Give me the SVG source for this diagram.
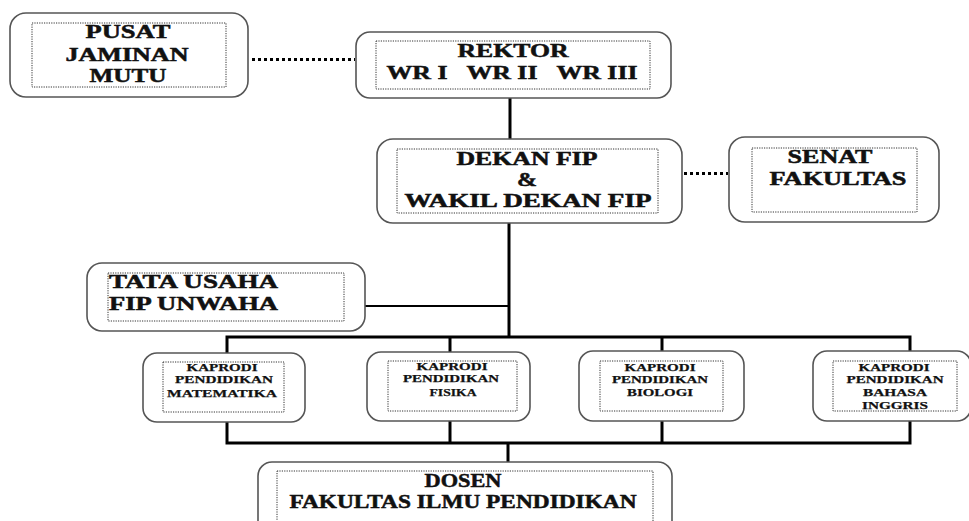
<svg xmlns="http://www.w3.org/2000/svg" width="969" height="521" viewBox="0 0 969 521">
<style>
.box{fill:#fff;stroke:#555;stroke-width:1.6}
.inner{fill:none;stroke:#333;stroke-width:1;stroke-dasharray:1.2 1.2}
text{font-family:"Liberation Serif","Times New Roman",serif;font-weight:bold;fill:#111;text-anchor:middle}
.t{font-size:19px;stroke:#111;stroke-width:0.5}
.s{font-size:10.5px;stroke:#111;stroke-width:0.25}
.line{stroke:#000;fill:none}
.dot{stroke:#000;stroke-width:3;stroke-dasharray:3 3;fill:none}
</style>
<rect width="969" height="521" fill="#fff"/>
<g id="connectors">
<line class="dot" x1="252" y1="59.5" x2="355" y2="59.5"/>
<line class="dot" x1="684" y1="173.5" x2="728" y2="173.5"/>
<line class="line" stroke-width="3" x1="510" y1="98" x2="510" y2="139"/>
<line class="line" stroke-width="3" x1="509" y1="223" x2="509" y2="338"/>
<line class="line" stroke-width="2" x1="365" y1="306" x2="509" y2="306"/>
<polyline class="line" stroke-width="3" points="227,353 227,337 910,337 910,351"/>
<line class="line" stroke-width="3" x1="450" y1="337" x2="450" y2="352"/>
<line class="line" stroke-width="3" x1="662" y1="337" x2="662" y2="351"/>
<polyline class="line" stroke-width="3" points="227,418 227,443 910,443 910,418"/>
<line class="line" stroke-width="3" x1="450" y1="419" x2="450" y2="443"/>
<line class="line" stroke-width="3" x1="662" y1="418" x2="662" y2="443"/>
<line class="line" stroke-width="3" x1="508" y1="443" x2="508" y2="462"/>
</g>
<g id="pusat">
<rect class="box" x="10" y="13" width="238" height="84" rx="16"/>
<rect class="inner" x="32" y="23" width="194" height="64"/>
<text class="t" x="128" y="38" textLength="85" lengthAdjust="spacingAndGlyphs">PUSAT</text>
<text class="t" x="127" y="61" textLength="123" lengthAdjust="spacingAndGlyphs">JAMINAN</text>
<text class="t" x="128" y="82" textLength="77" lengthAdjust="spacingAndGlyphs">MUTU</text>
</g>
<g id="rektor">
<rect class="box" x="356" y="32" width="315" height="66" rx="14"/>
<rect class="inner" x="376" y="41" width="274" height="48"/>
<text class="t" x="513" y="57" textLength="111" lengthAdjust="spacingAndGlyphs">REKTOR</text>
<text class="t" x="512" y="79" textLength="251" lengthAdjust="spacingAndGlyphs" xml:space="preserve">WR I   WR II   WR III</text>
</g>
<g id="dekan">
<rect class="box" x="377" y="139" width="305" height="84" rx="16"/>
<rect class="inner" x="397" y="149" width="261" height="64"/>
<text class="t" x="527" y="165" textLength="141" lengthAdjust="spacingAndGlyphs">DEKAN FIP</text>
<text class="t" x="527" y="186" textLength="20" lengthAdjust="spacingAndGlyphs">&amp;</text>
<text class="t" x="528" y="207" textLength="247" lengthAdjust="spacingAndGlyphs">WAKIL DEKAN FIP</text>
</g>
<g id="senat">
<rect class="box" x="729" y="137" width="210" height="85" rx="16"/>
<rect class="inner" x="752" y="148" width="165" height="64"/>
<text class="t" x="830" y="163" textLength="85" lengthAdjust="spacingAndGlyphs">SENAT</text>
<text class="t" x="838" y="185" textLength="137" lengthAdjust="spacingAndGlyphs">FAKULTAS</text>
</g>
<g id="tata-usaha">
<rect class="box" x="87" y="263" width="278" height="68" rx="15"/>
<rect class="inner" x="108" y="273" width="236" height="48"/>
<text class="t" x="109" y="288" style="text-anchor:start" textLength="169" lengthAdjust="spacingAndGlyphs">TATA USAHA</text>
<text class="t" x="109" y="310" style="text-anchor:start" textLength="169" lengthAdjust="spacingAndGlyphs">FIP UNWAHA</text>
</g>
<g id="kaprodi-matematika">
<rect class="box" x="143" y="353" width="162" height="69" rx="14"/>
<rect class="inner" x="163" y="362" width="121" height="50"/>
<text class="s" x="222" y="371" textLength="71" lengthAdjust="spacingAndGlyphs">KAPRODI</text>
<text class="s" x="224" y="383" textLength="98" lengthAdjust="spacingAndGlyphs">PENDIDIKAN</text>
<text class="s" x="222" y="397" textLength="110" lengthAdjust="spacingAndGlyphs">MATEMATIKA</text>
</g>
<g id="kaprodi-fisika">
<rect class="box" x="367" y="352" width="163" height="69" rx="14"/>
<rect class="inner" x="388" y="361" width="129" height="50"/>
<text class="s" x="452" y="370" textLength="71" lengthAdjust="spacingAndGlyphs">KAPRODI</text>
<text class="s" x="451" y="382" textLength="96" lengthAdjust="spacingAndGlyphs">PENDIDIKAN</text>
<text class="s" x="453" y="396" textLength="47" lengthAdjust="spacingAndGlyphs">FISIKA</text>
</g>
<g id="kaprodi-biologi">
<rect class="box" x="579" y="351" width="165" height="70" rx="14"/>
<rect class="inner" x="600" y="361" width="123" height="50"/>
<text class="s" x="660" y="371" textLength="71" lengthAdjust="spacingAndGlyphs">KAPRODI</text>
<text class="s" x="660" y="383" textLength="96" lengthAdjust="spacingAndGlyphs">PENDIDIKAN</text>
<text class="s" x="660" y="396" textLength="66" lengthAdjust="spacingAndGlyphs">BIOLOGI</text>
</g>
<g id="kaprodi-bahasa-inggris">
<rect class="box" x="813" y="351" width="158" height="70" rx="14"/>
<rect class="inner" x="833" y="361" width="124" height="50"/>
<text class="s" x="894" y="371" textLength="71" lengthAdjust="spacingAndGlyphs">KAPRODI</text>
<text class="s" x="895" y="383" textLength="97" lengthAdjust="spacingAndGlyphs">PENDIDIKAN</text>
<text class="s" x="895" y="396" textLength="64" lengthAdjust="spacingAndGlyphs">BAHASA</text>
<text class="s" x="895" y="409" textLength="66" lengthAdjust="spacingAndGlyphs">INGGRIS</text>
</g>
<g id="dosen">
<rect class="box" x="258" y="462" width="414" height="80" rx="14"/>
<rect class="inner" x="277" y="471" width="376" height="60"/>
<text class="t" x="463" y="487" textLength="77" lengthAdjust="spacingAndGlyphs">DOSEN</text>
<text class="t" x="463" y="508" textLength="347" lengthAdjust="spacingAndGlyphs">FAKULTAS ILMU PENDIDIKAN</text>
</g>
</svg>
